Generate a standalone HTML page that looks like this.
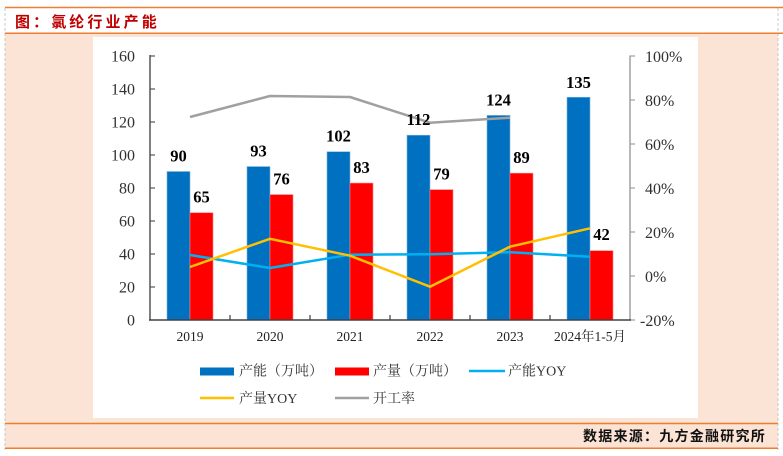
<!DOCTYPE html>
<html><head><meta charset="utf-8"><style>
html,body{margin:0;padding:0;background:#fff;}
svg{display:block;}
</style></head><body>
<svg width="783" height="456" viewBox="0 0 783 456" xmlns="http://www.w3.org/2000/svg">
<!-- backgrounds -->
<rect x="0" y="0" width="783" height="456" fill="#ffffff"/>
<rect x="5" y="34" width="773" height="414" fill="#FBE3D6"/>
<rect x="93" y="37" width="605" height="381" fill="#ffffff"/>
<!-- borders -->
<line x1="5" y1="8" x2="5" y2="450" stroke="#C8C8C8" stroke-width="1" stroke-dasharray="3,2"/>
<line x1="778" y1="8" x2="778" y2="450" stroke="#C8C8C8" stroke-width="1" stroke-dasharray="3,2"/>
<line x1="5" y1="7.5" x2="783" y2="7.5" stroke="#F07E30" stroke-width="1.5"/>
<line x1="5" y1="33.3" x2="783" y2="33.3" stroke="#F07E30" stroke-width="1.5"/>
<line x1="5" y1="423.5" x2="778" y2="423.5" stroke="#F07E30" stroke-width="1.5"/>
<line x1="5" y1="448.3" x2="778" y2="448.3" stroke="#F07E30" stroke-width="1.5"/>
<!-- title -->
<text x="15" y="27" font-family="'Liberation Sans','Noto Sans CJK SC',sans-serif" font-size="15" font-weight="bold" fill="#C00000" letter-spacing="3.1">图：氯纶行业产能</text>
<!-- footer -->
<text x="583" y="441" font-family="'Liberation Sans','Noto Sans CJK SC',sans-serif" font-size="14" font-weight="bold" fill="#111" letter-spacing="1.25">数据来源：九方金融研究所</text>

<!-- bars blue -->
<g fill="#0070C0" stroke="#7FB3DD" stroke-width="0.6">
<rect x="167" y="171.5" width="23" height="148.5"/>
<rect x="247" y="166.55" width="23" height="153.45"/>
<rect x="327" y="151.7" width="23" height="168.3"/>
<rect x="407" y="135.2" width="23" height="184.8"/>
<rect x="487" y="115.4" width="23" height="204.6"/>
<rect x="567" y="97.25" width="23" height="222.75"/>
</g>
<g fill="#FF0000" stroke="#FF8080" stroke-width="0.6">
<rect x="190" y="212.75" width="23" height="107.25"/>
<rect x="270" y="194.6" width="23" height="125.4"/>
<rect x="350" y="183.05" width="23" height="136.95"/>
<rect x="430" y="189.65" width="23" height="130.35"/>
<rect x="510" y="173.15" width="23" height="146.85"/>
<rect x="590" y="250.7" width="23" height="69.3"/>
</g>

<!-- axes -->
<line x1="150" y1="55" x2="150" y2="320.5" stroke="#555" stroke-width="1.5"/>
<g stroke="#555" stroke-width="1.2">
<line x1="150" y1="56" x2="155" y2="56"/>
<line x1="150" y1="89" x2="155" y2="89"/>
<line x1="150" y1="122" x2="155" y2="122"/>
<line x1="150" y1="155" x2="155" y2="155"/>
<line x1="150" y1="188" x2="155" y2="188"/>
<line x1="150" y1="221" x2="155" y2="221"/>
<line x1="150" y1="254" x2="155" y2="254"/>
<line x1="150" y1="287" x2="155" y2="287"/>
</g>
<line x1="630" y1="55.5" x2="630" y2="320.5" stroke="#A0A0A0" stroke-width="1.5"/>
<g stroke="#A0A0A0" stroke-width="1.2">
<line x1="630" y1="56" x2="635" y2="56"/>
<line x1="630" y1="100" x2="635" y2="100"/>
<line x1="630" y1="144" x2="635" y2="144"/>
<line x1="630" y1="188" x2="635" y2="188"/>
<line x1="630" y1="232" x2="635" y2="232"/>
<line x1="630" y1="276" x2="635" y2="276"/>
<line x1="630" y1="320" x2="635" y2="320"/>
</g>
<line x1="149" y1="320" x2="631" y2="320" stroke="#404040" stroke-width="1.6"/>
<g stroke="#404040" stroke-width="1.2">
<line x1="230" y1="320" x2="230" y2="315"/>
<line x1="310" y1="320" x2="310" y2="315"/>
<line x1="390" y1="320" x2="390" y2="315"/>
<line x1="470" y1="320" x2="470" y2="315"/>
<line x1="550" y1="320" x2="550" y2="315"/>
</g>

<!-- left tick labels -->
<g font-family="'Liberation Serif',serif" font-size="16" fill="#303030" text-anchor="end">
<text x="135" y="61.7">160</text>
<text x="135" y="94.7">140</text>
<text x="135" y="127.7">120</text>
<text x="135" y="160.7">100</text>
<text x="135" y="193.7">80</text>
<text x="135" y="226.7">60</text>
<text x="135" y="259.7">40</text>
<text x="135" y="292.7">20</text>
<text x="135" y="325.7">0</text>
</g>
<g font-family="'Liberation Serif',serif" font-size="16" fill="#303030" text-anchor="start">
<text x="645" y="62">100%</text>
<text x="645" y="106">80%</text>
<text x="645" y="150">60%</text>
<text x="645" y="194">40%</text>
<text x="645" y="238">20%</text>
<text x="645" y="282">0%</text>
<text x="640" y="326">-20%</text>
</g>
<!-- x labels -->
<g font-family="'Liberation Serif','Noto Serif CJK SC',serif" font-size="13.5" fill="#222" text-anchor="middle">
<text x="190" y="341">2019</text>
<text x="270" y="341">2020</text>
<text x="350" y="341">2021</text>
<text x="430" y="341">2022</text>
<text x="510" y="341">2023</text>
<text x="590" y="341">2024年1-5月</text>
</g>

<!-- lines -->
<polyline points="190,117 270,96 350,97 430,122.7 510,117.7" fill="none" stroke="#A0A0A0" stroke-width="2.5" stroke-linejoin="round"/>
<polyline points="190,255 270,268 350,254.7 430,254.2 510,252.2 590,256.7" fill="none" stroke="#00B0F0" stroke-width="2.5" stroke-linejoin="round"/>
<polyline points="190,267 270,238.8 350,255.7 430,286.7 510,246.7 590,228.3" fill="none" stroke="#FFC000" stroke-width="2.5" stroke-linejoin="round"/>

<!-- data labels -->
<g font-family="'Liberation Serif',serif" font-size="16.5" font-weight="bold" fill="#000" text-anchor="middle">
<text x="178.5" y="161.5">90</text>
<text x="258.5" y="156.5">93</text>
<text x="338.5" y="141.7">102</text>
<text x="418.5" y="125.2">112</text>
<text x="498.5" y="105.4">124</text>
<text x="578.5" y="88">135</text>
<text x="201.5" y="202.7">65</text>
<text x="281.5" y="184.6">76</text>
<text x="361.5" y="173">83</text>
<text x="441.5" y="179.6">79</text>
<text x="521.5" y="163.2">89</text>
<text x="601.5" y="240">42</text>
</g>

<!-- legend -->
<rect x="200" y="367.5" width="34" height="8" fill="#0070C0"/>
<rect x="335" y="367.5" width="34" height="8" fill="#FF0000"/>
<line x1="469" y1="371" x2="505" y2="371" stroke="#00B0F0" stroke-width="2.5"/>
<line x1="200" y1="398" x2="234" y2="398" stroke="#FFC000" stroke-width="2.5"/>
<line x1="335" y1="398" x2="369" y2="398" stroke="#A0A0A0" stroke-width="2.5"/>
<g font-family="'Liberation Serif','Noto Serif CJK SC',serif" font-size="14" fill="#333">
<text x="239" y="375.5">产能（万吨）</text>
<text x="373" y="375.5">产量（万吨）</text>
<text x="508" y="375.5">产能YOY</text>
<text x="239" y="403">产量YOY</text>
<text x="373" y="403">开工率</text>
</g>
</svg>
</body></html>
